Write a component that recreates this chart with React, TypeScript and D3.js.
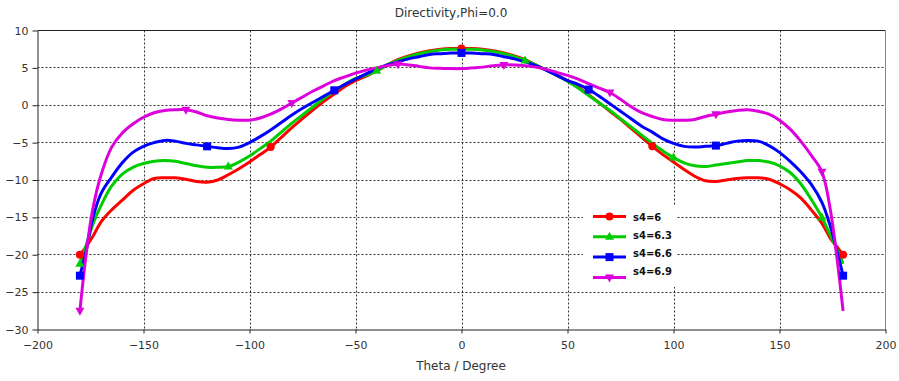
import { useEffect, useRef } from "react";
import * as d3 from "d3";

// theta grid (deg) shared by all four curves
const theta = [
  -180, -177, -174, -170, -165, -160, -155, -150, -145, -140, -135, -130, -125, -120, -115, -110, -105, -100, -95, -90,
  -85, -80, -75, -70, -65, -60, -55, -50, -45, -40, -35, -30, -25, -20, -15, -10, -5, 0,
  5, 10, 15, 20, 25, 30, 35, 40, 45, 50, 55, 60, 65, 70, 75, 80, 85, 90, 95, 100, 105, 110,
  115, 120, 125, 130, 135, 140, 145, 150, 155, 160, 165, 170, 174, 177, 180,
];

const s4_6 = [
  -20, -18.9, -17.6, -15.6, -14.0, -12.7, -11.4, -10.5, -9.8, -9.7, -9.7, -9.9, -10.2, -10.3, -10.0, -9.3, -8.5, -7.6, -6.6, -5.6,
  -4.3, -3.0, -1.8, -0.6, 0.5, 1.5, 2.5, 3.3, 3.9, 4.6, 5.4, 6.1, 6.6, 7.0, 7.3, 7.5, 7.6, 7.6,
  7.6, 7.5, 7.3, 7.0, 6.6, 6.1, 5.4, 4.7, 4.0, 3.3, 2.4, 1.4, 0.3, -0.8, -1.9, -3.1, -4.3, -5.5, -6.6, -7.6, -8.6, -9.5,
  -10.1, -10.2, -10.0, -9.8, -9.7, -9.7, -9.9, -10.5, -11.3, -12.4, -14.0, -15.8, -17.8, -18.9, -20,
];

const s4_63 = [
  -21.2, -18.7, -16.0, -13.4, -10.8, -9.2, -8.3, -7.8, -7.5, -7.4, -7.5, -7.8, -8.1, -8.3, -8.3, -8.2, -7.6, -6.8, -5.8, -4.8,
  -3.6, -2.4, -1.3, -0.2, 0.9, 1.9, 2.8, 3.6, 4.0, 4.6, 5.4, 6.0, 6.5, 6.9, 7.2, 7.4, 7.5, 7.5,
  7.5, 7.4, 7.2, 6.9, 6.5, 6.0, 5.4, 4.7, 4.0, 3.2, 2.3, 1.3, 0.3, -0.7, -1.8, -2.9, -4.0, -5.1, -6.1, -7.0, -7.7, -8.1,
  -8.2, -8.0, -7.8, -7.6, -7.4, -7.4, -7.6, -8.1, -9.0, -10.5, -12.6, -15.0, -17.4, -19.2, -21.2,
];

const s4_66 = [
  -22.8, -19.4, -15.2, -11.8, -9.6, -7.7, -6.3, -5.5, -5.0, -4.7, -4.8, -5.1, -5.3, -5.5, -5.7, -5.8, -5.6, -5.0, -4.2, -3.3,
  -2.3, -1.3, -0.4, 0.4, 1.2, 2.0, 2.8, 3.5, 4.2, 4.9, 5.4, 5.8, 6.2, 6.5, 6.8, 6.9, 7.0, 7.0,
  7.0, 6.9, 6.8, 6.5, 6.2, 5.8, 5.3, 4.7, 4.0, 3.3, 2.8, 2.1, 1.2, 0.2, -0.8, -1.8, -2.8, -3.6, -4.5, -5.1, -5.5, -5.6,
  -5.5, -5.4, -5.1, -4.8, -4.7, -4.8, -5.4, -6.3, -7.5, -8.9, -10.6, -13.0, -16.2, -19.4, -22.8,
];

const s4_69 = [
  -27.5, -19.8, -14.0, -9.3, -5.6, -3.7, -2.5, -1.6, -1.0, -0.7, -0.6, -0.6, -0.9, -1.4, -1.7, -1.9, -2.0, -2.0, -1.7, -1.2,
  -0.5, 0.3, 1.1, 1.9, 2.6, 3.3, 3.8, 4.3, 4.7, 5.0, 5.3, 5.5, 5.4, 5.2, 5.0, 4.95, 4.9, 4.9,
  5.0, 5.1, 5.3, 5.4, 5.4, 5.3, 5.1, 4.8, 4.4, 4.0, 3.5, 2.9, 2.3, 1.7, 0.8, -0.2, -1.0, -1.5, -1.9, -2.0, -2.0, -1.9,
  -1.5, -1.2, -0.9, -0.7, -0.6, -0.8, -1.2, -2.0, -3.2, -4.8, -6.7, -8.9, -14.0, -20.2, -27.5,
];

const seriesNames = ["s4=6", "s4=6.3", "s4=6.6", "s4=6.9"];
const seriesValues = [s4_6, s4_63, s4_66, s4_69];
const seriesColors = ["#ff0000", "#00cc00", "#0000ff", "#dd00dd"];
const markerSteps = [90, 70, 60, 50];
const markerKinds = ["circle", "triangleUp", "square", "triangleDown"];

const xTicks = [-200, -150, -100, -50, 0, 50, 100, 150, 200];
const yTicks = [-30, -25, -20, -15, -10, -5, 0, 5, 10];

const W = 899;
const H = 381;
const FONT = "'DejaVu Sans', sans-serif";

function drawMarker(g, kind, cx, cy, color) {
  if (kind === "circle") {
    g.append("circle").attr("cx", cx).attr("cy", cy).attr("r", 4).attr("fill", color);
  } else if (kind === "square") {
    g.append("rect").attr("x", cx - 4).attr("y", cy - 4).attr("width", 8).attr("height", 8).attr("fill", color);
  } else {
    const s = kind === "triangleUp" ? -1 : 1;
    g.append("path")
      .attr("d", `M${cx - 4.5},${cy - 3 * s}L${cx + 4.5},${cy - 3 * s}L${cx},${cy + 5 * s}Z`)
      .attr("fill", color);
  }
}

export default function App() {
  const ref = useRef(null);

  useEffect(() => {
    const svg = d3.select(ref.current);
    svg.selectAll("*").remove();

    const x = d3.scaleLinear().domain([-200, 200]).range([37.5, 885.5]);
    const y = d3.scaleLinear().domain([-30, 10]).range([329.5, 30.5]);
    const [x0, x1] = x.range();
    const [y0, y1] = y.range();

    svg.append("rect").attr("width", W).attr("height", H).attr("fill", "#fff");

    // grid
    const grid = svg.append("g").attr("stroke", "#333").attr("stroke-width", 1).attr("stroke-dasharray", "2,2");
    xTicks.slice(1, -1).forEach((t) => {
      grid.append("line").attr("x1", Math.round(x(t)) + 0.5).attr("x2", Math.round(x(t)) + 0.5).attr("y1", y1).attr("y2", y0);
    });
    yTicks.slice(1, -1).forEach((t) => {
      grid.append("line").attr("x1", x0).attr("x2", x1).attr("y1", Math.round(y(t) - 0.5) + 0.5).attr("y2", Math.round(y(t) - 0.5) + 0.5);
    });

    // frame
    svg.append("line").attr("x1", x0).attr("x2", x1).attr("y1", y1).attr("y2", y1).attr("stroke", "#222");
    svg.append("line").attr("x1", x1).attr("x2", x1).attr("y1", y1).attr("y2", y0).attr("stroke", "#888");

    // axes
    const xAxis = svg.append("g").attr("transform", `translate(0,${y0})`)
      .call(d3.axisBottom(x).tickValues(xTicks).tickSize(4).tickSizeOuter(0).tickPadding(8));
    const yAxis = svg.append("g").attr("transform", `translate(${x0},0)`)
      .call(d3.axisLeft(y).tickValues(yTicks).tickSize(5).tickSizeOuter(0).tickPadding(4));
    [xAxis, yAxis].forEach((a) => {
      a.selectAll("text").attr("font-family", FONT).attr("font-size", 11).attr("fill", "#333");
      a.select(".domain").attr("stroke", "#222");
      a.selectAll(".tick line").attr("stroke", "#222");
    });

    // curves
    const line = d3.line()
      .x((d) => x(d[0]))
      .y((d) => y(d[1]))
      .curve(d3.curveCatmullRom.alpha(0.5));

    seriesValues.forEach((vals, i) => {
      const pts = theta.map((t, j) => [t, vals[j]]);
      svg.append("path")
        .datum(pts)
        .attr("fill", "none")
        .attr("stroke", seriesColors[i])
        .attr("stroke-width", 3)
        .attr("stroke-linejoin", "round")
        .attr("d", line);
    });

    seriesValues.forEach((vals, i) => {
      const mg = svg.append("g");
      d3.range(-180, 181, markerSteps[i]).forEach((t) => {
        const j = theta.indexOf(t);
        drawMarker(mg, markerKinds[i], x(t), y(vals[j]), seriesColors[i]);
      });
    });

    // legend
    const lg = svg.append("g");
    lg.append("rect").attr("x", 583).attr("y", 205).attr("width", 94).attr("height", 82).attr("fill", "#fff");
    seriesNames.forEach((name, i) => {
      const ly = 216.5 + i * 20.3;
      lg.append("line").attr("x1", 593).attr("x2", 626).attr("y1", ly).attr("y2", ly)
        .attr("stroke", seriesColors[i]).attr("stroke-width", 3);
      drawMarker(lg, markerKinds[i], 609.5, ly, seriesColors[i]);
      lg.append("text").attr("x", 633).attr("y", 217.5 + i * 18).attr("dy", "0.35em")
        .attr("font-family", FONT).attr("font-size", 10).attr("font-weight", "bold").attr("fill", "#111")
        .text(name);
    });

    // titles
    svg.append("text").attr("x", 451).attr("y", 17).attr("text-anchor", "middle")
      .attr("font-family", FONT).attr("font-size", 12).attr("fill", "#333").text("Directivity,Phi=0.0");
    svg.append("text").attr("x", 461).attr("y", 370).attr("text-anchor", "middle")
      .attr("font-family", FONT).attr("font-size", 12).attr("fill", "#333").text("Theta / Degree");
  }, []);

  return (
    <svg ref={ref} width={W} height={H} style={{ position: "absolute", left: 0, top: 0, display: "block" }} />
  );
}
